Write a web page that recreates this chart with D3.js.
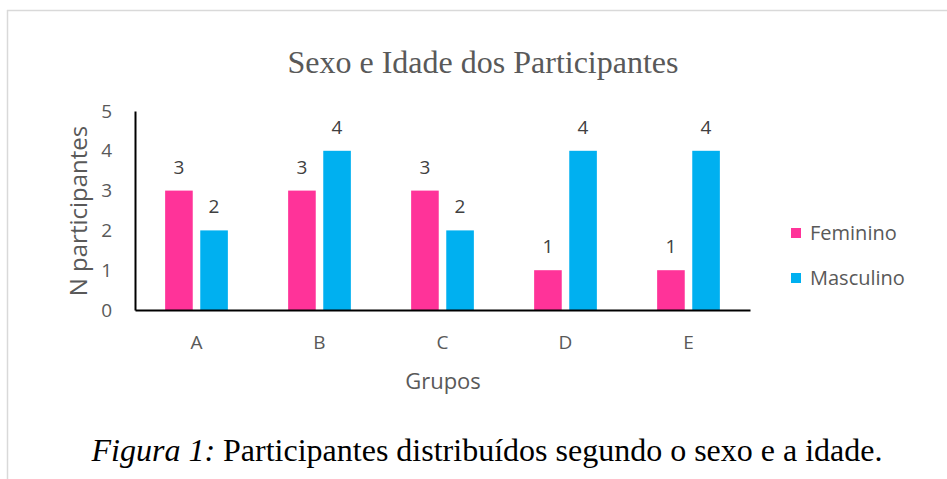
<!DOCTYPE html>
<html>
<head>
<meta charset="utf-8">
<script src="https://cdn.jsdelivr.net/npm/d3@7"></script>
<style>
  html, body { margin: 0; padding: 0; background: #fff; }
  svg { display: block; }
</style>
</head>
<body>
<svg id="chart"></svg>
<script>
const groups = ['A', 'B', 'C', 'D', 'E'];
const series = ['Feminino', 'Masculino'];
const feminino = [3, 3, 3, 1, 1];
const masculino = [2, 4, 2, 4, 4];
const yTicks = [0, 1, 2, 3, 4, 5];
const colors = ['#FF3399', '#00B0F0'];

const W = 947, H = 479;
const svg = d3.select('#chart').attr('width', W).attr('height', H);

// frame lines (top and left of the figure box)
svg.append('line').attr('x1', 7).attr('x2', W).attr('y1', 10.5).attr('y2', 10.5)
  .attr('stroke', '#d9d9d9').attr('stroke-width', 1.5);
svg.append('line').attr('x1', 7.5).attr('x2', 7.5).attr('y1', 10).attr('y2', H)
  .attr('stroke', '#d9d9d9').attr('stroke-width', 1.5);

const plot = { left: 135, right: 750, top: 111, bottom: 310 };
const sans = '"Open Sans", sans-serif';
const serif = '"Liberation Serif", "Times New Roman", serif';

const x0 = d3.scaleBand().domain(groups)
  .range([plot.left, plot.right]).paddingInner(0.49).paddingOuter(0.245);
const x1 = d3.scaleBand().domain(series)
  .range([0, x0.bandwidth()]).paddingInner(0.214);
const y = d3.scaleLinear().domain([0, 5]).range([plot.bottom, plot.top]);

const data = groups.map((g, i) => ({ group: g, values: [feminino[i], masculino[i]] }));

// title
svg.append('text')
  .attr('x', 483).attr('y', 73)
  .attr('text-anchor', 'middle')
  .style('font-family', serif)
  .style('font-size', '32px')
  .attr('fill', '#595959')
  .text('Sexo e Idade dos Participantes');

// bars
const grp = svg.append('g').selectAll('.grp').data(data).enter().append('g')
  .attr('transform', d => `translate(${x0(d.group)},0)`);

const items = d => d.values.map((v, j) => ({ key: series[j], v, j }));

grp.selectAll('rect')
  .data(items)
  .enter().append('rect')
  .attr('x', d => x1(d.key))
  .attr('y', d => y(d.v))
  .attr('width', x1.bandwidth())
  .attr('height', d => y(0) - y(d.v))
  .attr('fill', d => colors[d.j]);

grp.selectAll('.lbl')
  .data(items)
  .enter().append('text')
  .attr('x', d => x1(d.key) + x1.bandwidth() / 2)
  .attr('y', d => y(d.v) - 17)
  .attr('text-anchor', 'middle')
  .style('font-family', sans)
  .style('font-size', '19px')
  .attr('fill', '#404040')
  .text(d => d.v);

// y axis
const yAxis = svg.append('g')
  .attr('transform', `translate(${plot.left},0)`)
  .call(d3.axisLeft(y).tickValues(yTicks).tickFormat(d3.format('d')).tickSize(0).tickPadding(23));
yAxis.select('.domain').attr('stroke', '#000').attr('stroke-width', 2);
yAxis.selectAll('text')
  .style('font-family', sans)
  .style('font-size', '19px')
  .attr('fill', '#595959');

// x axis
const xAxis = svg.append('g')
  .attr('transform', `translate(0,${plot.bottom})`)
  .call(d3.axisBottom(x0).tickSize(0).tickPadding(26));
xAxis.select('.domain').attr('stroke', '#000').attr('stroke-width', 2);
xAxis.selectAll('text')
  .style('font-family', sans)
  .style('font-size', '19px')
  .attr('fill', '#595959');

// axis titles
svg.append('text')
  .attr('transform', 'translate(87,211) rotate(-90)')
  .attr('text-anchor', 'middle')
  .style('font-family', sans)
  .style('font-size', '24px')
  .attr('fill', '#595959')
  .text('N participantes');

svg.append('text')
  .attr('x', 443).attr('y', 389)
  .attr('text-anchor', 'middle')
  .style('font-family', sans)
  .style('font-size', '22px')
  .attr('fill', '#595959')
  .text('Grupos');

// legend
const legend = svg.append('g').attr('transform', 'translate(791,228)');
const li = legend.selectAll('.li').data(series).enter().append('g')
  .attr('transform', (d, i) => `translate(0,${i * 45})`);
li.append('rect').attr('width', 10).attr('height', 10)
  .attr('fill', (d, i) => colors[i]);
li.append('text').attr('x', 19).attr('y', 12)
  .style('font-family', sans)
  .style('font-size', '20px')
  .attr('fill', '#595959')
  .text(d => d);

// caption
const cap = svg.append('text')
  .attr('x', 487).attr('y', 461)
  .attr('text-anchor', 'middle')
  .style('font-family', serif)
  .style('font-size', '32px')
  .attr('fill', '#000');
cap.append('tspan').style('font-style', 'italic').text('Figura 1:');
cap.append('tspan').text(' Participantes distribuídos segundo o sexo e a idade.');
</script>
</body>
</html>
